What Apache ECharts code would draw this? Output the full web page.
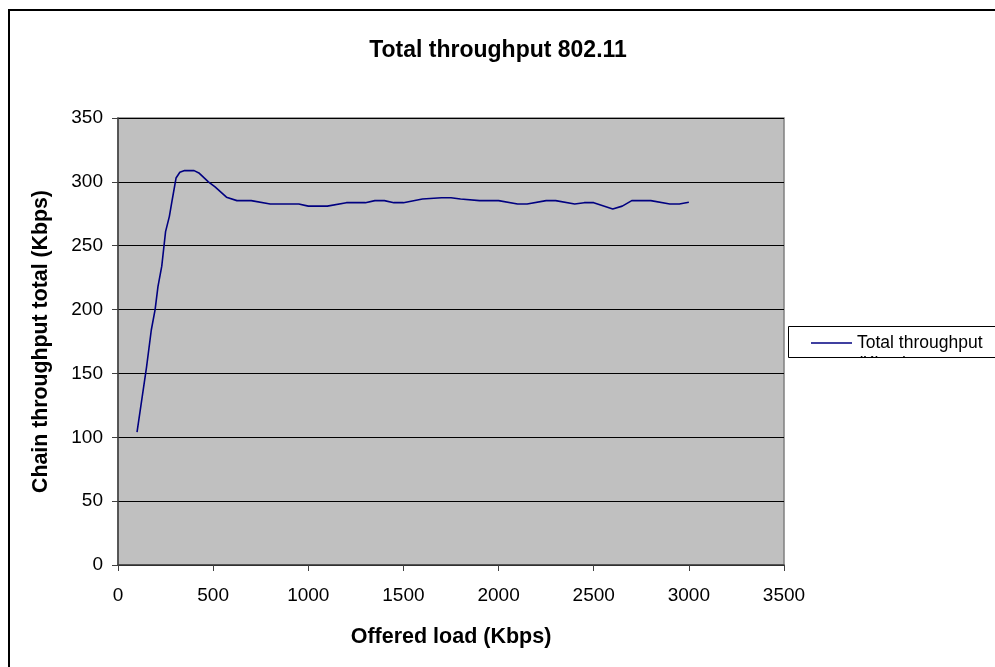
<!DOCTYPE html>
<html>
<head>
<meta charset="utf-8">
<script src="https://cdn.jsdelivr.net/npm/echarts@6/dist/echarts.min.js"></script>
<style>
html,body{margin:0;padding:0;background:#fff;}
#chart{width:995px;height:667px;}
</style>
</head>
<body>
<div id="chart"></div>
<script>
const titleText = 'Total throughput 802.11';
const seriesName = 'Total throughput (Kbps)';
const xAxisName = 'Offered load (Kbps)';
const yAxisName = 'Chain throughput total (Kbps)';
const offeredLoad = [100,150,175,195,210,230,250,270,285,305,325,350,400,425,475,510,570,625,700,800,950,1000,1100,1200,1300,1350,1400,1450,1500,1600,1700,1750,1800,1900,2000,2100,2150,2250,2300,2400,2450,2500,2600,2650,2700,2800,2900,2950,3000];
const throughput = [104,155,184,200,218,234,261,273,286,303,307.5,308.8,308.8,307,300,296,288,285.3,285.3,282.7,282.7,281,281,283.7,283.7,285.3,285.3,283.7,283.7,286.6,287.6,287.6,286.6,285.3,285.3,282.7,282.7,285.3,285.3,282.7,283.7,283.7,278.8,281,285.3,285.3,282.7,282.7,284];

const FONT = '"Liberation Sans", Arial, sans-serif';
const chart = echarts.init(document.getElementById('chart'), null, {renderer: 'canvas'});
chart.setOption({
  animation: false,
  backgroundColor: '#ffffff',
  title: {
    text: titleText,
    left: 493, textAlign: 'center', top: 34,
    textStyle: {fontFamily: FONT, fontSize: 23, fontWeight: 'bold', color: '#000'}
  },
  legend: {
    left: 811, top: 334,
    itemWidth: 41, itemHeight: 14, itemGap: 0,
    padding: 0,
    formatter: function () { return 'Total throughput'; },
    textStyle: {fontFamily: FONT, fontSize: 17.5, color: '#000'},
    data: [{name: seriesName, icon: 'path://M0,6.3H41V7.7H0Z'}]
  },
  grid: {
    left: 118, top: 118, right: 211, bottom: 102,
    show: true, backgroundColor: '#C0C0C0', borderColor: '#808080', borderWidth: 1.5
  },
  xAxis: {
    type: 'value', min: 0, max: 3500, interval: 500,
    name: xAxisName, nameLocation: 'middle', nameGap: 61,
    nameTextStyle: {fontFamily: FONT, fontSize: 21.5, fontWeight: 'bold', color: '#000'},
    axisLine: {show: true, onZero: false, lineStyle: {color: '#404040', width: 1.5}},
    axisTick: {show: true, length: 6, lineStyle: {color: '#404040'}},
    axisLabel: {fontFamily: FONT, fontSize: 19, color: '#000', margin: 21, formatter: function (v) { return String(v); }},
    splitLine: {show: false}
  },
  yAxis: {
    type: 'value', min: 0, max: 350, interval: 50,
    name: yAxisName, nameLocation: 'middle', nameGap: 66, nameRotate: 90,
    nameTextStyle: {fontFamily: FONT, fontSize: 21.3, fontWeight: 'bold', color: '#000'},
    axisLine: {show: true, lineStyle: {color: '#404040', width: 1.5}},
    axisTick: {show: true, length: 6, lineStyle: {color: '#404040'}},
    axisLabel: {fontFamily: FONT, fontSize: 19, color: '#000', margin: 15},
    splitLine: {show: true, lineStyle: {color: '#000', width: 1}}
  },
  series: [{
    name: seriesName,
    type: 'line',
    data: offeredLoad.map((x, i) => [x, throughput[i]]),
    symbol: 'none',
    lineStyle: {color: '#000080', width: 1.6},
    itemStyle: {color: '#000080'}
  }],
  graphic: [
    {type: 'polyline', shape: {points: [[9, 667], [9, 10], [995, 10]]}, style: {stroke: '#000', lineWidth: 2, fill: null}, z: 200},
    {type: 'text', left: 857, top: 355, style: {text: '(Kbps)', font: '17.5px ' + FONT, fill: '#000'}, z: 150},
    {type: 'rect', shape: {x: 787, y: 357.5, width: 210, height: 25}, style: {fill: '#fff'}, z: 160},
    {type: 'rect', shape: {x: 788.5, y: 326.5, width: 220, height: 31}, style: {fill: null, stroke: '#000', lineWidth: 1}, z: 170}
  ]
});
</script>
</body>
</html>
